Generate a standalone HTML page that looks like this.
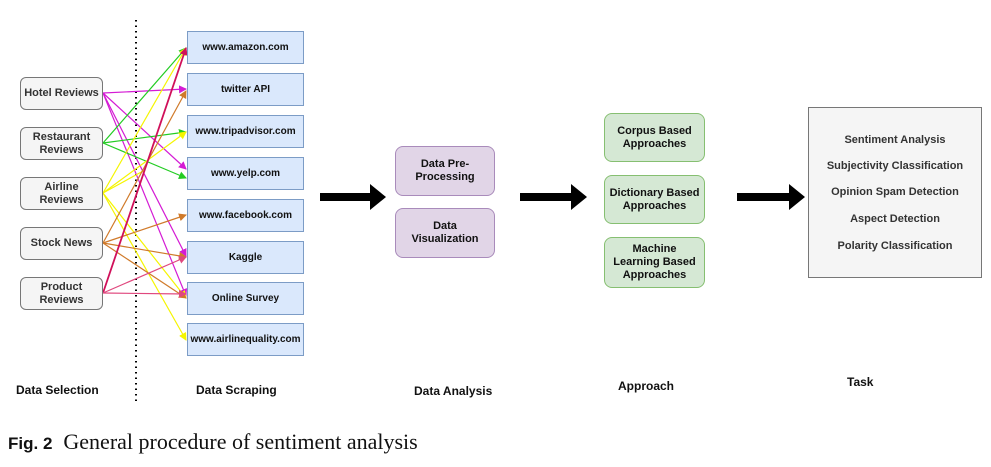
<!DOCTYPE html>
<html><head><style>
body{margin:0;width:991px;height:467px;background:#fff;position:relative;overflow:hidden;font-family:"Liberation Sans",sans-serif}
.b{position:absolute;box-sizing:border-box;display:flex;align-items:center;justify-content:center;text-align:center;font-weight:bold;font-size:11px;line-height:13px;color:#111}
.l{background:#f5f5f5;border:1px solid #777;border-radius:6px;left:20px;width:83px;height:33px;font-size:11px;color:#333}
.r{background:#dae8fc;border:1px solid #7c9cc6;left:187px;width:117px;height:33px;font-size:10px}
.p{background:#e1d5e7;border:1px solid #a98bbb;border-radius:8px;left:395px;width:100px;height:50px}
.g{background:#d5e8d4;border:1px solid #86bf71;border-radius:8px;left:604px;width:101px}
.t{position:absolute;font-weight:bold;font-size:12px;color:#111}
.task{position:absolute;left:808px;top:107px;width:174px;height:171px;box-sizing:border-box;background:#f5f5f5;border:1px solid #777}
.task div{position:absolute;width:100%;text-align:center;font-weight:bold;font-size:11px;color:#333}
</style></head><body>
<svg width="991" height="467" style="position:absolute;left:0;top:0">
<defs>
<marker id="m" markerWidth="8" markerHeight="8" refX="7" refY="4" orient="auto" markerUnits="userSpaceOnUse"><path d="M0,0L8,4L0,8z" fill="context-stroke"/></marker>
</defs>
<line x1="136" y1="20" x2="136" y2="402" stroke="#000" stroke-width="2" stroke-dasharray="1.5,4"/>
<g fill="none" stroke-width="1.2">
<g stroke="#d41bd4"><line x1="103" y1="93" x2="186" y2="89" marker-end="url(#m)"/><line x1="103" y1="93" x2="186" y2="169" marker-end="url(#m)"/><line x1="103" y1="93" x2="186" y2="256" marker-end="url(#m)"/><line x1="103" y1="93" x2="186" y2="296" marker-end="url(#m)"/></g>
<g stroke="#22cc22"><line x1="103" y1="143" x2="186" y2="48" marker-end="url(#m)"/><line x1="103" y1="143" x2="186" y2="132" marker-end="url(#m)"/><line x1="103" y1="143" x2="186" y2="178" marker-end="url(#m)"/></g>
<g stroke="#f5f500"><line x1="103" y1="193" x2="186" y2="48" marker-end="url(#m)"/><line x1="103" y1="193" x2="186" y2="132" marker-end="url(#m)"/><line x1="103" y1="193" x2="186" y2="298" marker-end="url(#m)"/><line x1="103" y1="193" x2="186" y2="340" marker-end="url(#m)"/><line x1="103" y1="193" x2="145" y2="170"/></g>
<g stroke="#d07a2a"><line x1="103" y1="243" x2="186" y2="91" marker-end="url(#m)"/><line x1="103" y1="243" x2="186" y2="215" marker-end="url(#m)"/><line x1="103" y1="243" x2="186" y2="257" marker-end="url(#m)"/><line x1="103" y1="243" x2="186" y2="298" marker-end="url(#m)"/></g>
<g stroke="#e0487e"><line x1="103" y1="293" x2="186" y2="48" marker-end="url(#m)" stroke="#d0105a" stroke-width="1.8"/><line x1="103" y1="293" x2="186" y2="257" marker-end="url(#m)"/><line x1="103" y1="293" x2="186" y2="294" marker-end="url(#m)"/></g>
</g>
<g fill="#000">
<path d="M320,193h50v-9l16,13l-16,13v-9h-50z"/>
<path d="M520,193h51v-9l16,13l-16,13v-9h-51z"/>
<path d="M737,193h52v-9l16,13l-16,13v-9h-52z"/>
</g>
</svg>
<div class="b l" style="top:77px">Hotel Reviews</div>
<div class="b l" style="top:127px">Restaurant<br>Reviews</div>
<div class="b l" style="top:177px">Airline<br>Reviews</div>
<div class="b l" style="top:227px">Stock News</div>
<div class="b l" style="top:277px">Product<br>Reviews</div>
<div class="b r" style="top:31px">www.amazon.com</div>
<div class="b r" style="top:73px">twitter API</div>
<div class="b r" style="top:115px">www.tripadvisor.com</div>
<div class="b r" style="top:157px">www.yelp.com</div>
<div class="b r" style="top:199px">www.facebook.com</div>
<div class="b r" style="top:241px">Kaggle</div>
<div class="b r" style="top:282px">Online Survey</div>
<div class="b r" style="top:323px">www.airlinequality.com</div>
<div class="b p" style="top:146px">Data Pre-<br>Processing</div>
<div class="b p" style="top:208px">Data<br>Visualization</div>
<div class="b g" style="top:113px;height:49px">Corpus Based<br>Approaches</div>
<div class="b g" style="top:175px;height:49px">Dictionary Based<br>Approaches</div>
<div class="b g" style="top:237px;height:51px">Machine<br>Learning Based<br>Approaches</div>
<div class="task">
<div style="top:26px">Sentiment Analysis</div>
<div style="top:52px">Subjectivity Classification</div>
<div style="top:78px">Opinion Spam Detection</div>
<div style="top:105px">Aspect Detection</div>
<div style="top:132px">Polarity Classification</div>
</div>
<div class="t" style="left:16px;top:383px">Data Selection</div>
<div class="t" style="left:196px;top:383px">Data Scraping</div>
<div class="t" style="left:414px;top:384px">Data Analysis</div>
<div class="t" style="left:618px;top:379px">Approach</div>
<div class="t" style="left:847px;top:375px">Task</div>
<div style="position:absolute;left:8px;top:429px;font-size:22px;color:#111;white-space:nowrap"><span style="font-family:'Liberation Sans',sans-serif;font-weight:bold;font-size:17px">Fig. 2</span><span style="font-family:'Liberation Serif',serif">&nbsp; General procedure of sentiment analysis</span></div>
</body></html>
